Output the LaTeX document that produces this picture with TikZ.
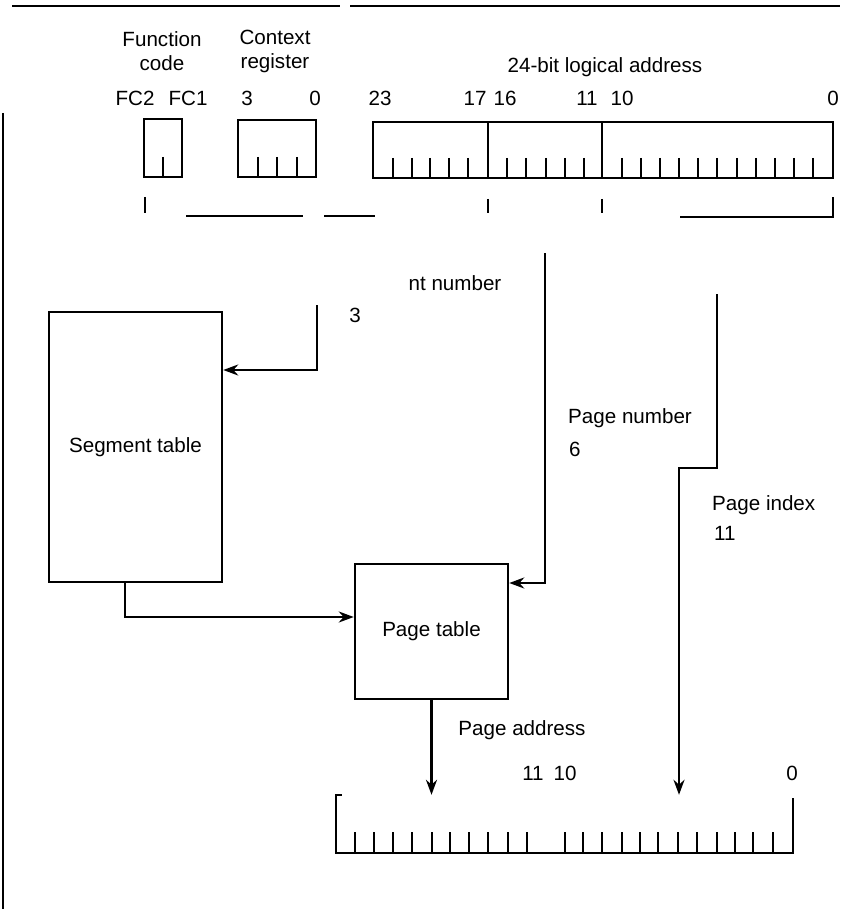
\documentclass[tikz,border=0pt]{standalone}
\usepackage{fontspec}
\setmainfont{Liberation Sans}
\usetikzlibrary{arrows.meta,positioning}

\begin{document}
\begin{tikzpicture}[
    x=1pt, y=-1pt,
    lbl/.style={font=\fontsize{20.6}{24}\selectfont, inner sep=0pt, align=center},
    reg/.style={draw, line width=2.5pt, inner sep=0pt},
    tbl/.style={draw, line width=2.5pt, inner sep=0pt, align=center, font=\fontsize{20.6}{24}\selectfont},
    tick/.style={line width=2.2pt},
    wire/.style={line width=2.4pt},
    rule/.style={line width=2pt},
    arrow/.style={-{Stealth[length=15pt,width=11pt]}, line width=2.4pt}
]
\useasboundingbox (0,0) rectangle (861,909);

\draw[rule] (12,6) -- (340,6);
\draw[rule] (350,6) -- (840,6);
\draw[rule] (3,113) -- (3,909);

\node[lbl] (fclbl) at (162,51) {Function\\code};
\node[lbl] (ctxlbl) at (275,51) {Context\\register};
\node[lbl] (addrlbl) at (605,67) {24-bit logical address};
\foreach \x/\t in {135/FC2,188/FC1,247/3,315/0,380/23,475/17,505/16,587/11,622/10,833/0}
    \node[lbl] (bit\x) at (\x,98) {\t};

\node[reg, minimum width=38pt, minimum height=58pt] (fcreg) at (163,148) {};
\node[reg, minimum width=78pt, minimum height=57pt] (ctxreg) at (277,148.5) {};
\node[reg, minimum width=460pt, minimum height=56pt] (addrreg) at (603,150) {};
\draw[tick] (163,157) -- (163,177);
\foreach \x in {258,277,297}
    \draw[tick] (\x,157) -- (\x,177);
\draw[wire] (488,122) -- (488,178);
\draw[wire] (602,122) -- (602,178);
\foreach \x in {393,412,430,449,468,507,526,546,565,584,622,641,660,679,698,717,737,756,775,794,813}
    \draw[tick] (\x,158) -- (\x,178);

\draw[wire] (145,197) -- (145,213);
\draw[wire] (186,216) -- (303,216);
\draw[wire] (324,216) -- (375,216);
\draw[wire] (488,199) -- (488,213);
\draw[wire] (602,199) -- (602,213);
\draw[wire] (680,217) -- (833,217) -- (833,197);

\node[tbl, minimum width=173pt, minimum height=270pt] (segtable) at (135.5,447) {Segment table};
\node[tbl, minimum width=153pt, minimum height=135pt] (pagetable) at (431.5,631.5) {Page table};
\node[minimum width=457pt, minimum height=58pt, inner sep=0pt] (physreg) at (564.5,824) {};
\draw[wire] ([xshift=6pt]physreg.north west) -- (physreg.north west) -- (physreg.south west)
    -- (physreg.south east) -- ([yshift=-3pt]physreg.north east);
\foreach \x in {355,374,393,412,432,450,469,488,508,527,565,583,602,622,640,658,678,697,717,735,753,773}
    \draw[tick] (\x,832) -- (\x,853);

\node[lbl] (segnum) at (455,283) {nt number};
\node[lbl] (segval) at (355,315) {3};
\node[lbl, anchor=west] (pgnum) at (568,418) {Page number};
\node[lbl, anchor=west] (pgval) at (569,449) {6};
\node[lbl, anchor=west] (idxlbl) at (712,505) {Page index};
\node[lbl, anchor=west] (idxval) at (714,533) {11};
\node[lbl] (pgaddr) at (522,730) {Page address};
\node[lbl] (phys11) at (533,773) {11};
\node[lbl] (phys10) at (565,773) {10};
\node[lbl] (phys0) at (792,773) {0};

\coordinate (segtap) at (317,305);
\coordinate (segturn) at (317,370);
\coordinate (pgtap) at (545,253);
\coordinate (pgturn) at (545,583);
\coordinate (idxtap) at (717,294);
\coordinate (idxturn) at (717,468);
\coordinate (idxjog) at (679,468);
\coordinate (segdrop) at (125,617);

\draw[arrow] (segtap) -- (segturn) -- (segturn -| segtable.east);
\draw[arrow] (segtable.south -| segdrop) -- (segdrop) -- (segdrop -| pagetable.west);
\draw[arrow] (pgtap) -- (pgturn) -- (pgturn -| pagetable.east);
\draw[arrow] (idxtap) -- (idxturn) -- (idxjog) -- (idxjog |- physreg.north);
\draw[arrow] (pagetable.south) -- (pagetable.south |- physreg.north);
\end{tikzpicture}
\end{document}
